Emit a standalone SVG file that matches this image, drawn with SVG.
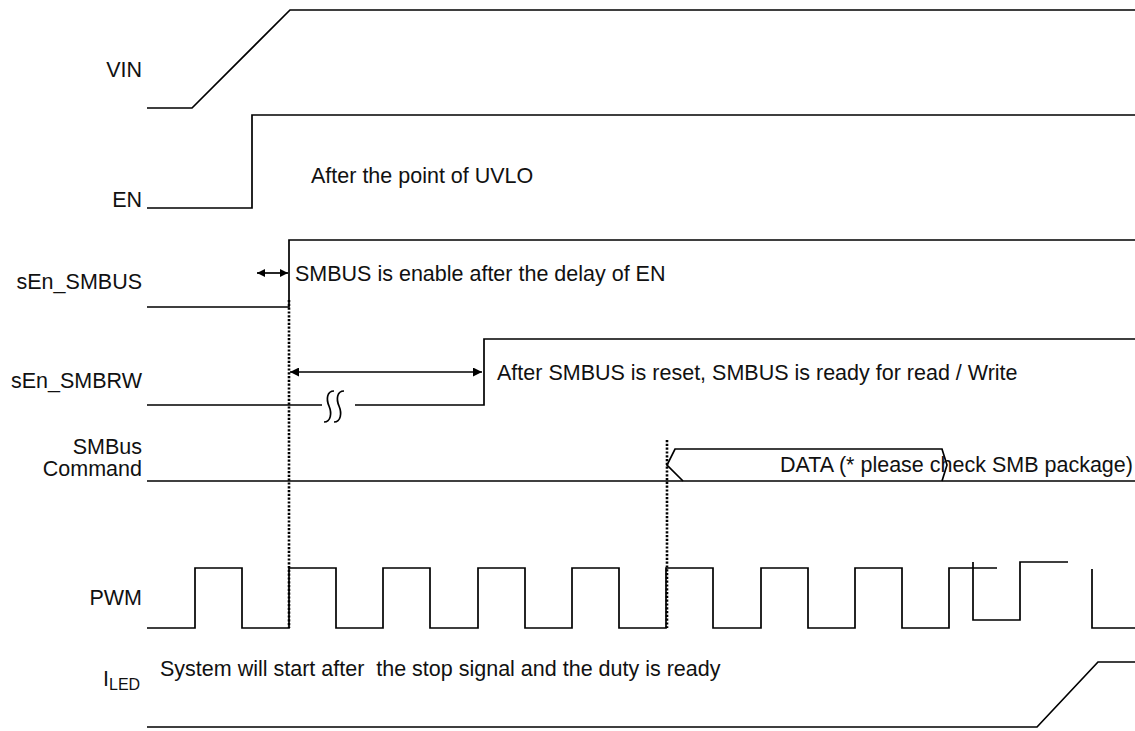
<svg xmlns="http://www.w3.org/2000/svg" width="1135" height="731" viewBox="0 0 1135 731">
<style>
text{font-family:"Liberation Sans",Arial,sans-serif;font-size:21.5px;fill:#111}
.lbl{text-anchor:end}
.sig{fill:none;stroke:#000;stroke-width:1.7}
.dot{fill:none;stroke:#000;stroke-width:2.6;stroke-dasharray:2.2,1.6}
.arr{fill:none;stroke:#000;stroke-width:1.7}
</style>
<defs>
<marker id="ah" viewBox="0 0 10 10" refX="10" refY="5" markerWidth="11" markerHeight="9" markerUnits="userSpaceOnUse" orient="auto-start-reverse">
<path d="M0,0 L10,5 L0,10 Z" fill="#000"/>
</marker>
<marker id="ahs" viewBox="0 0 10 10" refX="10" refY="5" markerWidth="9" markerHeight="8" markerUnits="userSpaceOnUse" orient="auto-start-reverse">
<path d="M0,0 L10,5 L0,10 Z" fill="#000"/>
</marker>
</defs>
<g id="vin">
<text class="lbl" x="142" y="77">VIN</text>
<path class="sig" d="M147,108 H192 L290,10 H1135"/>
</g>
<g id="en">
<text class="lbl" x="142" y="207">EN</text>
<path class="sig" d="M147,208 H252 V115 H1135"/>
<text x="311" y="183">After the point of UVLO</text>
</g>
<g id="sen_smbus">
<text class="lbl" x="142" y="289">sEn_SMBUS</text>
<path class="sig" d="M147,307 H289 V240 H1135"/>
<text x="295" y="281">SMBUS is enable after the delay of EN</text>
</g>
<g id="sen_smbrw">
<text class="lbl" x="142" y="388">sEn_SMBRW</text>
<path class="sig" d="M147,405 H322 M355,405 H484 V339 H1135"/>
<path class="sig" d="M334,391 C327,391 326,399 329,406 C332,413 331,422 324,422 M344,391 C337,391 336,399 339,406 C342,413 341,422 334,422"/>
<text x="497" y="380">After SMBUS is reset, SMBUS is ready for read / Write</text>
</g>
<g id="smbus_command">
<text class="lbl" x="142" y="454">SMBus</text>
<text class="lbl" x="142" y="476">Command</text>
<path class="sig" d="M147,481 H1135"/>
<path class="sig" d="M683,481 L667,465 L675,449 H942 L947,465 L942,481"/>
<text x="780" y="472">DATA (* please check SMB package)</text>
</g>
<g id="pwm">
<text class="lbl" x="142" y="605">PWM</text>
<path class="sig" d="M147,628 H195 V568 H242 V628 H289 V568 H336 V628 H383 V568 H430 V628 H478 V568 H525 V628 H572 V568 H619 V628 H666 V568 H713 V628 H761 V568 H808 V628 H855 V568 H902 V628 H949 V568 H997"/>
<path class="sig" d="M973,562 V620 H1020 V562 H1068"/>
<path class="sig" d="M1092,569 V628 H1135"/>
</g>
<g id="iled">
<text x="103" y="686">I<tspan font-size="16" dy="4">LED</tspan></text>
<path class="sig" d="M147,727 H1037 L1098,662 H1135"/>
<text x="160" y="676" xml:space="preserve">System will start after  the stop signal and the duty is ready</text>
</g>
<g id="connectors">
<path class="dot" d="M289,300 V628"/>
<path class="dot" d="M667,440 V628"/>
<path class="arr" d="M257,273 H288" marker-start="url(#ahs)" marker-end="url(#ahs)"/>
<path class="arr" d="M290,372 H482" marker-start="url(#ah)" marker-end="url(#ah)"/>
</g>
</svg>
